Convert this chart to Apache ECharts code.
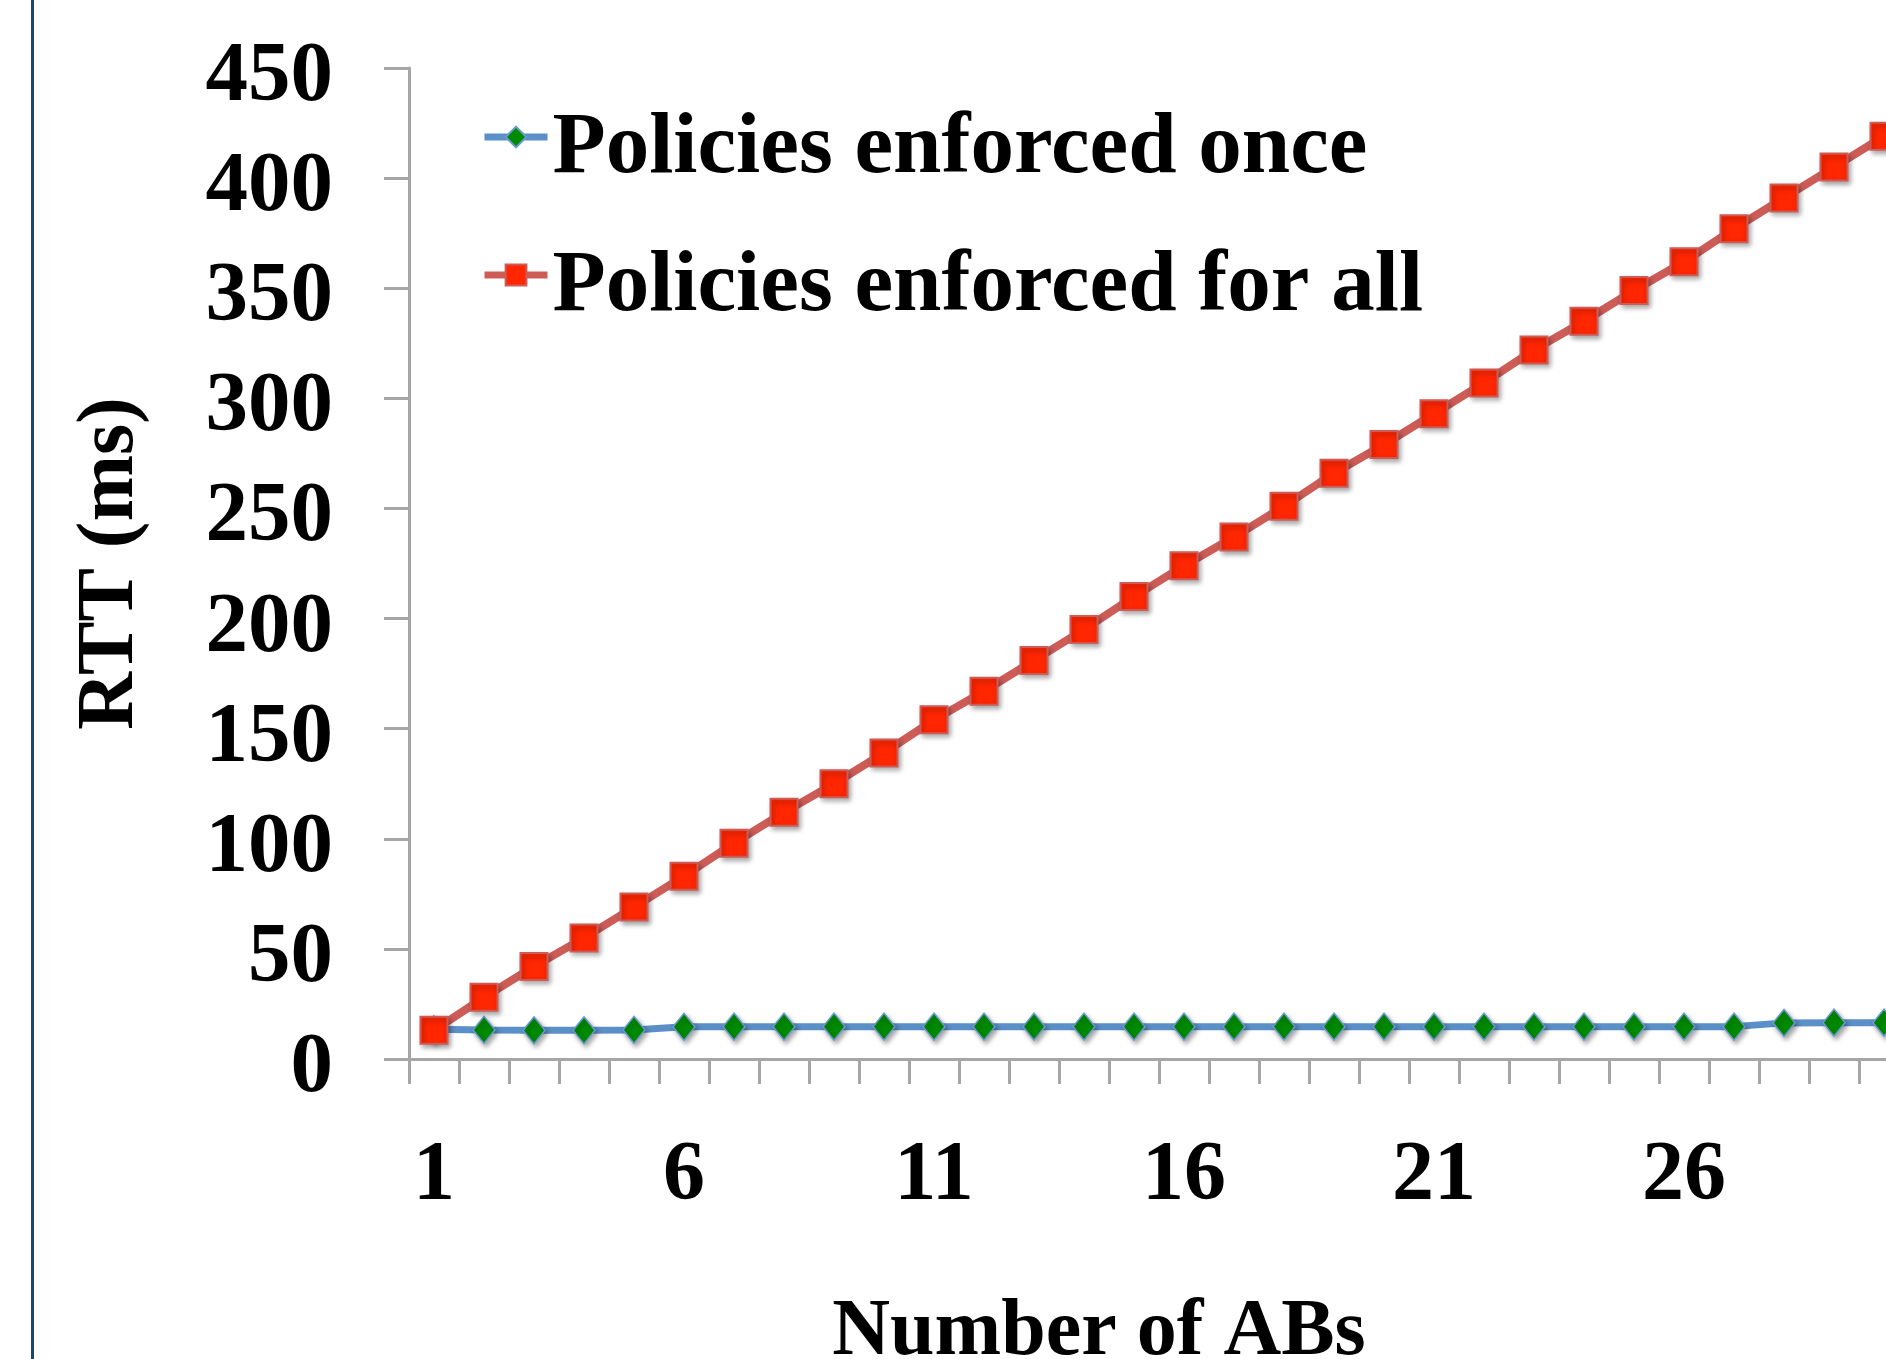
<!DOCTYPE html>
<html>
<head>
<meta charset="utf-8">
<style>
  html, body { margin: 0; padding: 0; background: #ffffff; }
  #chart { width: 1886px; height: 1359px; }
</style>
<script src="https://cdn.jsdelivr.net/npm/echarts@6/dist/echarts.min.js"></script>
</head>
<body>
<div id="chart"></div>
<script>
// ---- data ----
const categories = ['1','2','3','4','5','6','7','8','9','10','11','12','13','14','15','16','17','18','19','20','21','22','23','24','25','26','27','28','29','30'];
const enforcedOnce = [13.5, 13.2, 13.0, 13.0, 13.2, 14.6, 14.7, 14.7, 14.7, 14.7, 14.7, 14.7, 14.7, 14.7, 14.7, 14.7, 14.7, 14.7, 14.7, 14.7, 14.7, 14.7, 14.7, 14.7, 14.7, 14.7, 14.7, 16.4, 16.5, 16.5];
const enforcedForAll = [13, 28, 42, 55, 69, 83, 98, 112, 125, 139, 154, 167, 181, 195, 210, 224, 237, 251, 266, 279, 293, 307, 322, 335, 349, 362, 377, 391, 405, 419];
const seriesNames = ['Policies enforced once', 'Policies enforced for all'];
const yAxisTitle = 'RTT (ms)';
const xAxisTitle = 'Number of ABs';

const FONT = "'Liberation Serif', 'Times New Roman', serif";
const AXIS_GRAY = '#A6A6A6';

const chart = echarts.init(document.getElementById('chart'), null, { renderer: 'canvas' });
chart.setOption({
  animation: false,
  backgroundColor: '#ffffff',
  textStyle: { fontFamily: FONT },
  graphic: [{
    type: 'rect',
    shape: { x: 31, y: 0, width: 3, height: 1359 },
    style: { fill: '#134A6E' },
    silent: true
  }],
  legend: {
    orient: 'vertical',
    left: 476,
    top: 83,
    itemWidth: 63,
    itemHeight: 26,
    itemGap: 33,
    data: seriesNames,
    lineStyle: { width: 7 },
    formatter: function (name) { return '{g| }\n{t|' + name + '}'; },
    textStyle: {
      fontFamily: FONT,
      fontWeight: 'bold',
      fontSize: 87,
      color: '#000000',
      rich: {
        g: { fontSize: 10, lineHeight: 25 },
        t: { fontFamily: FONT, fontWeight: 'bold', fontSize: 87, lineHeight: 88, color: '#000000' }
      }
    }
  },
  grid: {
    left: 409,
    top: 68,
    bottom: 300,
    right: -23,
    containLabel: false,
    outerBoundsMode: 'none'
  },
  xAxis: {
    type: 'category',
    data: categories,
    boundaryGap: true,
    name: xAxisTitle,
    nameLocation: 'middle',
    nameGap: 234,
    nameTextStyle: {
      fontFamily: FONT, fontWeight: 'bold', fontSize: 80, color: '#000000',
      padding: [0, 120, 0, 0]
    },
    axisLine: { show: true, lineStyle: { color: AXIS_GRAY, width: 3 } },
    axisTick: { show: true, interval: 0, length: 25, alignWithLabel: false, lineStyle: { color: AXIS_GRAY, width: 3 } },
    axisLabel: {
      interval: 4,
      margin: 76,
      fontFamily: FONT, fontWeight: 'bold', fontSize: 84, color: '#000000'
    },
    splitLine: { show: false }
  },
  yAxis: {
    type: 'value',
    min: 0,
    max: 450,
    interval: 50,
    name: yAxisTitle,
    nameLocation: 'middle',
    nameRotate: 90,
    nameGap: 258,
    nameTextStyle: { fontFamily: FONT, fontWeight: 'bold', fontSize: 80, color: '#000000' },
    axisLine: { show: true, lineStyle: { color: AXIS_GRAY, width: 3 } },
    axisTick: { show: true, length: 25, lineStyle: { color: AXIS_GRAY, width: 3 } },
    axisLabel: {
      margin: 76,
      fontFamily: FONT, fontWeight: 'bold', fontSize: 85, color: '#000000',
      verticalAlign: 'top',
      lineHeight: 20
    },
    splitLine: { show: false }
  },
  series: [
    {
      name: seriesNames[0],
      type: 'line',
      data: enforcedOnce,
      symbol: 'diamond',
      symbolSize: [22, 27],
      z: 3,
      lineStyle: { color: '#5B8FC8', width: 7 },
      itemStyle: {
        color: '#008A00',
        borderColor: '#6A9AD0',
        borderWidth: 1.5,
        shadowBlur: 5,
        shadowColor: 'rgba(0,0,0,0.35)',
        shadowOffsetX: 2,
        shadowOffsetY: 3
      }
    },
    {
      name: seriesNames[1],
      type: 'line',
      data: enforcedForAll,
      symbol: 'rect',
      symbolSize: 27,
      z: 4,
      lineStyle: { color: '#CD5C57', width: 8 },
      itemStyle: {
        color: '#FF2600',
        borderColor: '#CD5C57',
        borderWidth: 2,
        shadowBlur: 5,
        shadowColor: 'rgba(0,0,0,0.35)',
        shadowOffsetX: 2,
        shadowOffsetY: 3
      }
    }
  ]
});
</script>
</body>
</html>
